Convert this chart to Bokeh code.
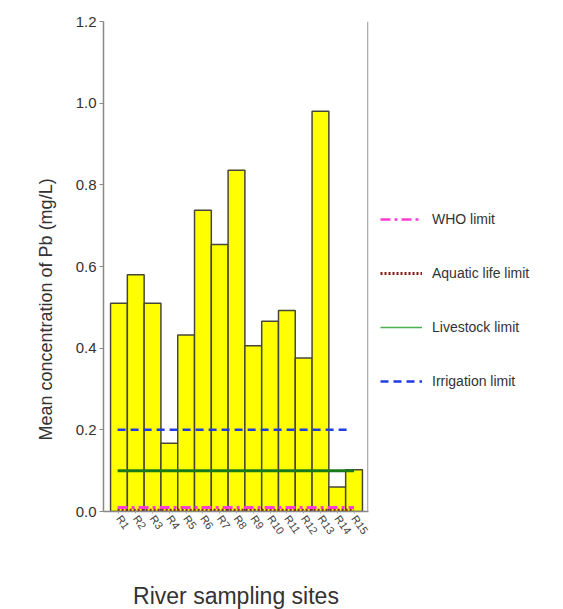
from bokeh.plotting import figure
from bokeh.models import (FixedTicker, PrintfTickFormatter, Legend,
                          LegendItem, Title, Range1d, Span)
from bokeh.embed import file_html
from bokeh.resources import INLINE

# Mean Pb concentration (mg/L) at each river sampling site
sites = ["R1", "R2", "R3", "R4", "R5", "R6", "R7", "R8",
         "R9", "R10", "R11", "R12", "R13", "R14", "R15"]
pb_mean = [0.51, 0.58, 0.51, 0.167, 0.432, 0.738, 0.654, 0.836,
           0.406, 0.466, 0.492, 0.376, 0.98, 0.06, 0.102]

# Guideline limits (mg/L)
limit_names = ["WHO limit", "Aquatic life limit", "Livestock limit", "Irrigation limit"]
limit_values = [0.01, 0.003, 0.1, 0.2]

FONT = "Liberation Sans"
TXT = "#333333"

xs = list(range(1, len(sites) + 1))

p = figure(width=563, height=609, frame_width=265, frame_height=490,
           output_backend="svg", toolbar_location=None,
           x_range=Range1d(0.08, 15.86), y_range=Range1d(0, 1.2),
           min_border_left=103, min_border_top=21, min_border_bottom=98,
           min_border_right=10)
p.outline_line_color = None
p.grid.visible = False
p.background_fill_color = "white"

p.vbar(x=xs, top=pb_mean, width=1.0, bottom=0,
       fill_color="#ffff00", line_color="#474737", line_width=1.5)

# horizontal guideline lines across the sites
x_lo, x_hi = 0.92, 15.0
p.line([x_lo, x_hi], [limit_values[1]] * 2, line_color="#8b1a1a",
       line_width=3, line_dash="2 2")
p.line([x_lo, x_hi], [limit_values[0]] * 2, line_color="#ff3dd5",
       line_width=3, line_dash="10 4 3 4")
p.line([x_lo, x_hi], [limit_values[2]] * 2, line_color="#1a7a1a",
       line_width=3)
p.line([x_lo, 14.8], [limit_values[3]] * 2, line_color="#1f3de0",
       line_width=2.5, line_dash="8 5")

# right edge of the plotting area
p.add_layout(Span(location=15.82, dimension="height", line_color="#aaaaaa",
                  line_width=1.5))

# key entries
key_styles = [
    dict(line_color="#ff3dd5", line_width=2.5, line_dash="10 4 3 4"),
    dict(line_color="#8b1a1a", line_width=3, line_dash="2 2"),
    dict(line_color="#4caf50", line_width=1.5),
    dict(line_color="#1f3de0", line_width=2.5, line_dash="8 5"),
]
items = []
for name, st in zip(limit_names, key_styles):
    r = p.line([float("nan")], [float("nan")], **st)
    items.append(LegendItem(label=name, renderers=[r]))

legend = Legend(items=items, location=(12, 120), border_line_color=None,
                background_fill_alpha=0, padding=0, margin=0,
                glyph_width=42, glyph_height=20, label_height=20,
                spacing=34, label_standoff=10,
                label_text_font=FONT, label_text_font_size="14px",
                label_text_color=TXT)
p.add_layout(legend, "right")

# y axis
ya = p.yaxis[0]
ya.ticker = FixedTicker(ticks=[0.0, 0.2, 0.4, 0.6, 0.8, 1.0, 1.2])
ya.formatter = PrintfTickFormatter(format="%.1f")
ya.major_label_text_font = FONT
ya.major_label_text_font_size = "15px"
ya.major_label_text_color = TXT
ya.axis_line_color = "#888888"
ya.axis_line_width = 1.5
ya.major_tick_line_color = "#888888"
ya.major_tick_out = 4
ya.major_tick_in = 0
ya.minor_tick_line_color = None
ya.major_label_standoff = 3

# x axis
xa = p.xaxis[0]
xa.ticker = FixedTicker(ticks=xs)
xa.major_label_overrides = {x: s for x, s in zip(xs, sites)}
xa.major_label_orientation = -0.95
xa.major_label_text_font = FONT
xa.major_label_text_font_size = "11px"
xa.major_label_text_color = "#444444"
xa.axis_line_color = "#888888"
xa.axis_line_width = 1.5
xa.major_tick_line_color = "#aaaaaa"
xa.major_tick_out = 2
xa.major_tick_in = 0
xa.minor_tick_line_color = None
xa.major_label_standoff = 3
xa.axis_label = "River sampling sites"
xa.axis_label_text_font = FONT
xa.axis_label_text_font_size = "23px"
xa.axis_label_text_font_style = "normal"
xa.axis_label_text_color = TXT
xa.axis_label_standoff = 40

# y axis title
p.add_layout(Title(text="Mean concentration of Pb (mg/L)", align="left",
                   offset=71, standoff=34, text_font=FONT,
                   text_font_size="18px", text_font_style="normal",
                   text_color=TXT), "left")

open("out.html", "w").write(file_html(p, INLINE))
